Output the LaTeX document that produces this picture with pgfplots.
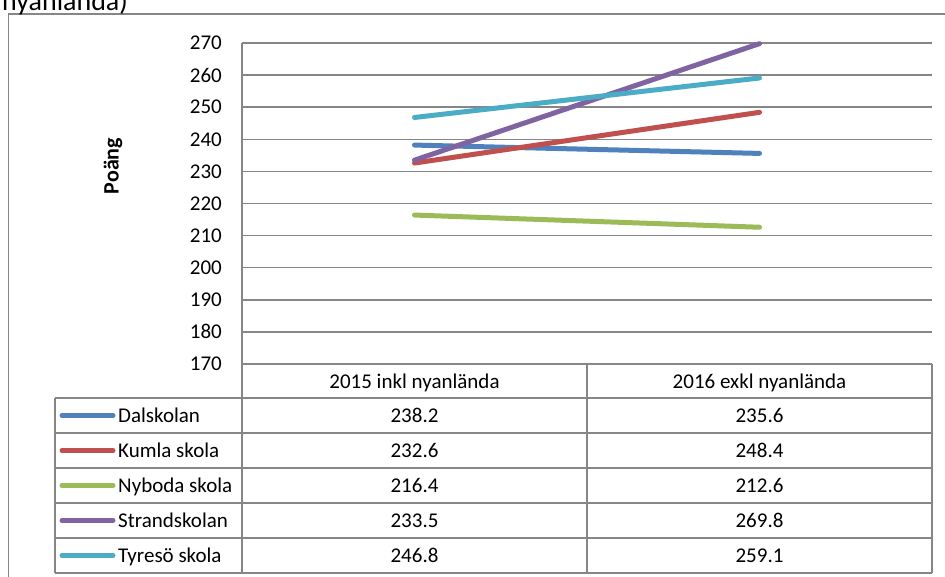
\documentclass[border=0pt]{standalone}
\usepackage{pgfplots}
\pgfplotsset{compat=1.18}
\usepackage{fontspec}
\setmainfont{Carlito}
\definecolor{c1}{HTML}{4F81BD}
\definecolor{c2}{HTML}{C0504D}
\definecolor{c3}{HTML}{9BBB59}
\definecolor{c4}{HTML}{8064A2}
\definecolor{c5}{HTML}{4BACC6}
\definecolor{gridc}{HTML}{868686}
\begin{document}
\fontsize{21pt}{24pt}\selectfont
\begin{tikzpicture}
\path[use as bounding box, clip] (0,0) rectangle (945pt,577pt);
\begin{axis}[
  at={(242pt,213pt)}, anchor=south west,
  width=690pt, height=321pt, scale only axis,
  xmin=0, xmax=2, ymin=170, ymax=270,
  ytick distance=10, xtick=\empty,
  axis lines*=left,
  axis line style={gridc, line width=1.5pt},
  ymajorgrids, grid style={gridc, line width=1.5pt},
  major tick length=0pt,
  /pgf/number format/assume math mode=true,
  yticklabel style={inner sep=0pt, xshift=-20pt, font=\fontsize{21pt}{24pt}\selectfont},
  clip=false,
]
\addplot[c1, line width=5pt, line cap=round] coordinates {(0.5,238.2) (1.5,235.6)};
\addplot[c2, line width=5pt, line cap=round] coordinates {(0.5,232.6) (1.5,248.4)};
\addplot[c3, line width=5pt, line cap=round] coordinates {(0.5,216.4) (1.5,212.6)};
\addplot[c4, line width=5pt, line cap=round] coordinates {(0.5,233.5) (1.5,269.8)};
\addplot[c5, line width=5pt, line cap=round] coordinates {(0.5,246.8) (1.5,259.1)};
\end{axis}
\begin{scope}[x=1pt, y=-1pt, yshift=577pt]
  % outer chart frame
  \draw[gridc, line width=1.5pt] (8.5,600) -- (8.5,14) -- (960,14);
  % cut-off title (cut off in the original too)
  \node[anchor=base west, inner sep=0pt, font=\fontsize{28pt}{30pt}\selectfont] at (2,11) {nyanlända)};
  % axis title
  \node[rotate=90, font=\bfseries\fontsize{22pt}{24pt}\selectfont, inner sep=0pt] at (113,166) {Poäng};
  % data table grid
  \draw[gridc, line width=1.5pt] (242,364) -- (932,364);
  \foreach \yy in {398,433,468,503,538,573} \draw[gridc, line width=1.5pt] (55,\yy) -- (932,\yy);
  \draw[gridc, line width=1.5pt] (55,398) -- (55,573);
  \foreach \xx in {242,587,932} \draw[gridc, line width=1.5pt] (\xx,364) -- (\xx,573);
  % header
  \node[anchor=base, inner sep=0pt] at (414.5,389) {2015 inkl nyanlända};
  \node[anchor=base, inner sep=0pt] at (759.5,389) {2016 exkl nyanlända};
  % rows
  \foreach \c/\name/\a/\b [count=\i from 0] in {c1/Dalskolan/238.2/235.6, c2/Kumla skola/232.6/248.4, c3/Nyboda skola/216.4/212.6, c4/Strandskolan/233.5/269.8, c5/Tyresö skola/246.8/259.1} {
    \pgfmathsetmacro{\yc}{415.5+35*\i}
    \draw[\c, line width=5pt, line cap=round] (62,\yc) -- (113,\yc);
    \node[anchor=base west, inner sep=0pt] at (118,\yc+6.8) {\name};
    \node[anchor=base, inner sep=0pt] at (414.5,\yc+6.8) {\a};
    \node[anchor=base, inner sep=0pt] at (759.5,\yc+6.8) {\b};
  }
\end{scope}
\end{tikzpicture}
\end{document}
